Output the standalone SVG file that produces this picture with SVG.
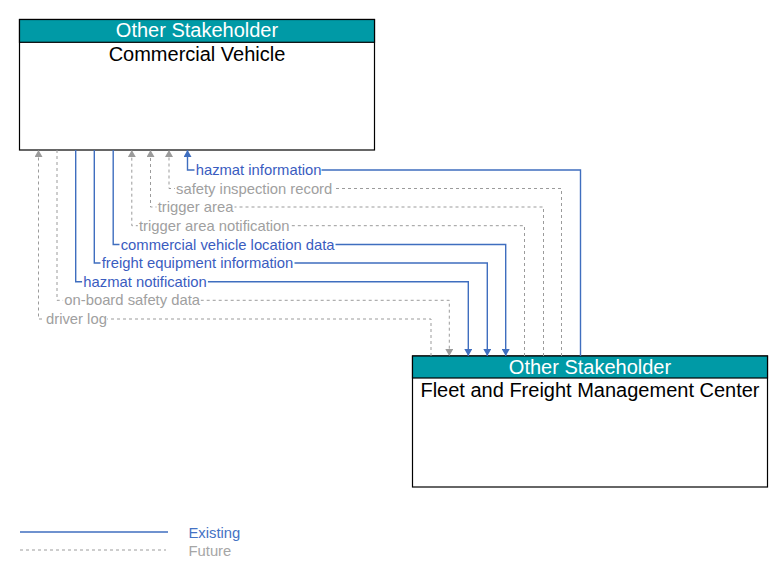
<svg xmlns="http://www.w3.org/2000/svg" width="783" height="579" viewBox="0 0 783 579">
<style>
.box{fill:#ffffff;stroke:#000000;stroke-width:1.2}
.hdr{fill:#009aa6;stroke:#000000;stroke-width:1.2}
.htxt{font-family:"Liberation Sans",Arial,sans-serif;font-size:20px;fill:#ffffff;text-anchor:middle}
.ntxt{font-family:"Liberation Sans",Arial,sans-serif;font-size:20px;fill:#000000;text-anchor:middle}
.ex{fill:none;stroke:#3f6ebf;stroke-width:1.4}
.fu{fill:none;stroke:#9b9b9b;stroke-width:1;stroke-dasharray:3,3}
.lbl{font-family:"Liberation Sans",Arial,sans-serif;font-size:14.8px}
.lex{fill:#3a5cbf}
.lfu{fill:#a0a0a0}
.bg{fill:#ffffff}
</style>
<defs>
<marker id="ab" markerUnits="userSpaceOnUse" markerWidth="8" markerHeight="8" refX="7" refY="4" orient="auto"><path d="M0,0 L7,4 L0,8 z" fill="#3f6ebf"/></marker>
<marker id="ag" markerUnits="userSpaceOnUse" markerWidth="8" markerHeight="8" refX="7" refY="4" orient="auto"><path d="M0,0 L7,4 L0,8 z" fill="#9b9b9b"/></marker>
</defs>
<rect width="783" height="579" fill="#ffffff"/>
<g id="commercial-vehicle">
<rect class="box" x="19.5" y="19.5" width="355" height="130.5"/>
<rect class="hdr" x="19.5" y="19.5" width="355" height="22.8"/>
<text class="htxt" x="197" y="37.3">Other Stakeholder</text>
<text class="ntxt" x="197" y="60.5">Commercial Vehicle</text>
</g>
<g id="fleet-freight-management-center">
<rect class="box" x="412.5" y="356" width="355" height="131"/>
<rect class="hdr" x="412.5" y="356" width="355" height="22"/>
<text class="htxt" x="590" y="374.3">Other Stakeholder</text>
<text class="ntxt" x="590" y="396.7">Fleet and Freight Management Center</text>
</g>
<g id="connectors">
<path class="ex" d="M580.5,356 V170 H187.5 V150" marker-end="url(#ab)"/>
<path class="fu" d="M561.5,356 V188.5 H169 V150" marker-end="url(#ag)"/>
<path class="fu" d="M543.5,356 V207 H150.5 V150" marker-end="url(#ag)"/>
<path class="fu" d="M524.5,356 V225.7 H131.8 V150" marker-end="url(#ag)"/>
<path class="ex" d="M113.2,150 V244.5 H505.7 V356" marker-end="url(#ab)"/>
<path class="ex" d="M94.3,150 V263 H487.3 V356" marker-end="url(#ab)"/>
<path class="ex" d="M75.7,150 V281.7 H468.3 V356" marker-end="url(#ab)"/>
<path class="fu" d="M57,150 V300.3 H449.3 V356" marker-end="url(#ag)"/>
<path class="fu" d="M431,356 V319 H38.5 V150" marker-end="url(#ag)"/>
<rect class="bg" x="194.5" y="163" width="127" height="14"/>
<text class="lbl lex" x="195.7" y="175">hazmat information</text>
<rect class="bg" x="174.8" y="181.5" width="159" height="14"/>
<text class="lbl lfu" x="176" y="193.5">safety inspection record</text>
<rect class="bg" x="156.5" y="200" width="78" height="14"/>
<text class="lbl lfu" x="157.7" y="212">trigger area</text>
<rect class="bg" x="137.8" y="218.7" width="152.7" height="14"/>
<text class="lbl lfu" x="139" y="230.7">trigger area notification</text>
<rect class="bg" x="119.5" y="237.5" width="216" height="14"/>
<text class="lbl lex" x="120.7" y="249.5">commercial vehicle location data</text>
<rect class="bg" x="100.5" y="256" width="194" height="14"/>
<text class="lbl lex" x="101.7" y="268">freight equipment information</text>
<rect class="bg" x="82.1" y="274.7" width="125.8" height="14"/>
<text class="lbl lex" x="83.3" y="286.7">hazmat notification</text>
<rect class="bg" x="63.1" y="293.3" width="137.4" height="14"/>
<text class="lbl lfu" x="64.3" y="305.3">on-board safety data</text>
<rect class="bg" x="44.8" y="312" width="62.4" height="14"/>
<text class="lbl lfu" x="46" y="324">driver log</text>
</g>
<g id="legend">
<line x1="20" y1="532" x2="168" y2="532" stroke="#3f6ebf" stroke-width="1.4"/>
<line x1="20" y1="550" x2="166" y2="550" stroke="#9b9b9b" stroke-width="1" stroke-dasharray="3,3"/>
<text class="lbl" x="188.5" y="537.7" fill="#4472c4">Existing</text>
<text class="lbl" x="188.5" y="555.5" fill="#a6a6a6">Future</text>
</g>
</svg>
